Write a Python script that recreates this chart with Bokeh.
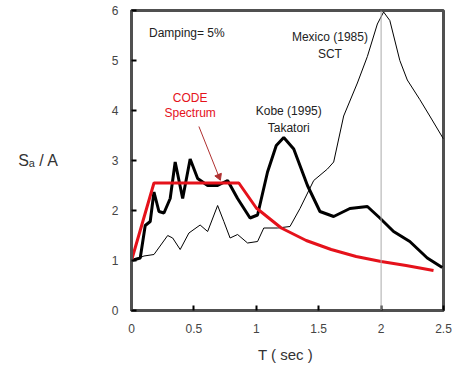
from bokeh.plotting import figure
from bokeh.models import Span, ColumnDataSource
from bokeh.core.properties import value
from bokeh.embed import file_html
from bokeh.resources import INLINE

# Code spectrum (red)
code_T = [0.0, 0.18, 0.86, 1.0, 1.2, 1.4, 1.6, 1.8, 2.0, 2.2, 2.42]
code_S = [1.0, 2.55, 2.55, 2.05, 1.65, 1.4, 1.22, 1.08, 0.98, 0.9, 0.8]

# Kobe (1995) Takatori (thick black)
kobe_T = [0.0, 0.07, 0.11, 0.15, 0.18, 0.22, 0.26, 0.31, 0.35, 0.41, 0.47, 0.53,
          0.61, 0.69, 0.77, 0.85, 0.95, 1.01, 1.09, 1.16, 1.22, 1.30, 1.41, 1.51, 1.62,
          1.75, 1.89, 1.99, 2.10, 2.23, 2.37, 2.49]
kobe_S = [1.0, 1.05, 1.7, 1.78, 2.37, 1.98, 1.95, 2.24, 2.97, 2.24, 3.03, 2.64,
          2.5, 2.5, 2.6, 2.24, 1.85, 1.91, 2.77, 3.3, 3.46, 3.23, 2.5, 1.98, 1.88,
          2.04, 2.08, 1.85, 1.58, 1.38, 1.05, 0.86]

# Mexico (1985) SCT (thin black)
mex_T = [0.0, 0.10, 0.18, 0.29, 0.33, 0.39, 0.46, 0.55, 0.61, 0.69, 0.74, 0.79,
         0.85, 0.93, 1.01, 1.06, 1.17, 1.27, 1.35, 1.46, 1.57, 1.62, 1.70, 1.81,
         1.89, 1.97, 2.02, 2.07, 2.15, 2.21, 2.31, 2.39, 2.50]
mex_S = [0.99, 1.09, 1.12, 1.5, 1.45, 1.22, 1.55, 1.71, 1.58, 2.1, 1.78, 1.45,
         1.52, 1.35, 1.38, 1.65, 1.65, 1.68, 2.04, 2.6, 2.83, 2.97, 3.89, 4.55,
         5.08, 5.73, 5.97, 5.8, 5.0, 4.61, 4.22, 3.89, 3.43]

# notes inside the plot
note_text = ["Mexico (1985)", "SCT", "Kobe (1995)", "Takatori", "CODE", "Spectrum"]
note_x = [1.59, 1.59, 1.26, 1.26, 0.47, 0.47]
note_y = [5.47, 5.14, 3.99, 3.66, 4.25, 3.96]
note_color = ["#222222", "#222222", "#222222", "#222222", "#e5121b", "#e5121b"]
damping_text = ["Damping= 5%"]
damping_x = [0.14]
damping_y = [5.55]

# pointer from the "CODE Spectrum" note to the plateau
arrow_start = (0.54, 3.68)
arrow_end = (0.70, 2.68)

FRAME = "#505050"

p = figure(width=453, height=365, x_range=(0, 2.5), y_range=(0, 6),
           output_backend="svg", toolbar_location=None,
           min_border_left=131, min_border_right=10, min_border_top=10,
           min_border_bottom=52)
p.xgrid.grid_line_alpha = 0
p.ygrid.grid_line_alpha = 0
p.outline_line_color = FRAME
p.outline_line_width = 3

for ax in (p.xaxis, p.yaxis):
    ax.axis_line_color = FRAME
    ax.axis_line_width = 3
    ax.major_tick_in = 5
    ax.major_tick_out = 0
    ax.major_tick_line_color = "black"
    ax.major_tick_line_width = 2
    ax.minor_tick_line_color = None
    ax.major_label_text_font_size = "12px"
    ax.major_label_text_color = "#444444"
    ax.major_label_standoff = 9
    ax.axis_label_text_font_style = "normal"
    ax.axis_label_text_color = "#333333"

p.xaxis.axis_label = "T  ( sec )"
p.xaxis.axis_label_text_font_size = "15px"
p.xaxis.axis_label_standoff = 10
p.yaxis.axis_label = "S\u2090 / A"
p.yaxis.axis_label_text_font_size = "16px"
p.yaxis.axis_label_orientation = "horizontal"
p.yaxis.axis_label_standoff = 50

p.add_layout(Span(location=2.0, dimension="height", line_color="#aaaaaa",
                  line_width=1))

p.line(mex_T, mex_S, line_color="black", line_width=1)
p.line(kobe_T, kobe_S, line_color="black", line_width=3)
p.line(code_T, code_S, line_color="#e5121b", line_width=3)

# arrow drawn as glyphs
p.segment(x0=[arrow_start[0]], y0=[arrow_start[1]], x1=[arrow_end[0]],
          y1=[arrow_end[1]], line_color="#b03030", line_width=1)
p.scatter(x=[arrow_end[0]], y=[arrow_end[1]], marker="triangle", size=7,
          angle=-2.76, fill_color="#b03030", line_color="#b03030")

notes = ColumnDataSource(dict(x=note_x, y=note_y, text=note_text, color=note_color))
p.text(x="x", y="y", text="text", source=notes, text_color="color",
       text_font_size=value("12px"), text_align="center",
       text_baseline="middle")
p.text(x=damping_x, y=damping_y, text=damping_text, text_color="#222222",
       text_font_size=value("12px"), text_align="left",
       text_baseline="middle")

open("out.html", "w").write(file_html(p, INLINE))
